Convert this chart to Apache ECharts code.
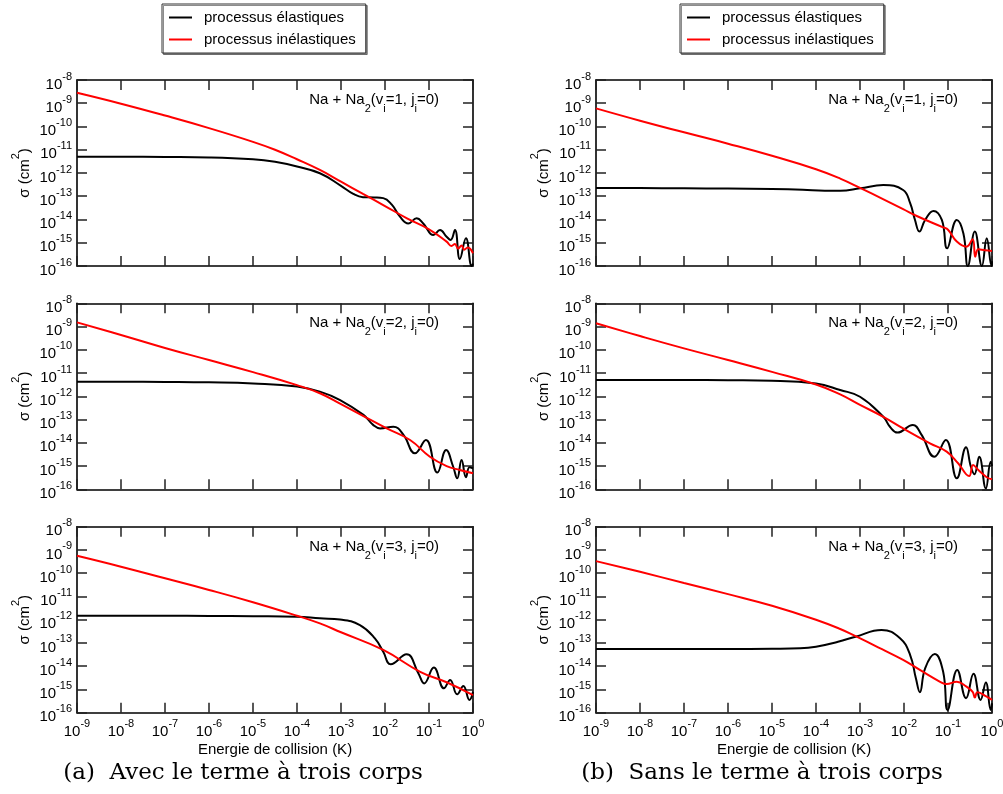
<!DOCTYPE html>
<html>
<head>
<meta charset="utf-8">
<script src="https://cdn.jsdelivr.net/npm/echarts@6/dist/echarts.min.js"></script>
<style>
html,body{margin:0;padding:0;background:#fff;}
#chart{width:1003px;height:794px;}
</style>
</head>
<body>
<div id="chart"></div>
<script>
// ---- Data: pairs of [log10(Energie / K), log10(sigma / cm^2)] ----
// (a) Avec le terme à trois corps
const avecV1Elastique = [[-9,-11.3],[-8,-11.3],[-7,-11.31],[-6,-11.33],[-5,-11.41],[-4.5,-11.52],[-4,-11.72],[-3.48,-12.01],[-3,-12.55],[-2.72,-12.9],[-2.5,-13.04],[-2.25,-13.05],[-2.04,-13.08],[-1.85,-13.35],[-1.66,-13.88],[-1.47,-14.17],[-1.28,-13.95],[-1.13,-14.17],[-0.9,-14.67],[-0.75,-14.45],[-0.6,-14.74],[-0.51,-14.88],[-0.41,-14.45],[-0.3,-15.7],[-0.16,-14.81],[-0.03,-16],[0,-15.9]];
const avecV1Inelastique = [[-9,-8.55],[-8,-9.02],[-7,-9.53],[-6,-10.07],[-5,-10.66],[-4.5,-11.0],[-4,-11.41],[-3.48,-11.87],[-3,-12.37],[-2.5,-12.9],[-2,-13.42],[-1.5,-13.95],[-1,-14.42],[-0.6,-14.95],[-0.49,-15.14],[-0.41,-15.05],[-0.34,-15.25],[-0.26,-15.12],[-0.2,-15.3],[-0.12,-15.2],[0,-15.45]];
const avecV2Elastique = [[-9,-11.37],[-8,-11.37],[-7,-11.38],[-6,-11.4],[-5,-11.45],[-4,-11.58],[-3.48,-11.8],[-3.02,-12.16],[-2.49,-12.8],[-2.27,-13.23],[-2.11,-13.38],[-1.81,-13.31],[-1.58,-13.66],[-1.32,-14.45],[-1.07,-13.88],[-0.81,-15.28],[-0.61,-14.31],[-0.45,-15.03],[-0.36,-15.53],[-0.26,-14.74],[-0.16,-15.48],[-0.08,-15.05],[0,-15.1]];
const avecV2Inelastique = [[-9,-8.82],[-8,-9.36],[-7,-9.92],[-6,-10.44],[-5,-10.96],[-4,-11.52],[-3.48,-11.87],[-3,-12.34],[-2.49,-12.85],[-1.96,-13.38],[-1.43,-13.88],[-0.98,-14.6],[-0.6,-15.0],[-0.3,-15.17],[0,-15.31]];
const avecV3Elastique = [[-9,-11.83],[-8,-11.83],[-7,-11.83],[-6,-11.84],[-5,-11.85],[-4,-11.87],[-3.48,-11.94],[-3.02,-11.99],[-2.57,-12.23],[-2.23,-12.8],[-2.04,-13.38],[-1.87,-13.92],[-1.51,-13.49],[-1.24,-14.31],[-1.11,-14.74],[-0.89,-14.06],[-0.66,-14.95],[-0.52,-14.59],[-0.36,-15.21],[-0.22,-14.85],[-0.08,-15.45],[0,-15.1]];
const avecV3Inelastique = [[-9,-9.25],[-8,-9.72],[-7,-10.22],[-6,-10.72],[-5,-11.25],[-4,-11.83],[-3.48,-12.16],[-3,-12.54],[-2.04,-13.3],[-1.2,-14.24],[-0.6,-14.69],[0,-15.24]];
// (b) Sans le terme à trois corps
const sansV1Elastique = [[-9,-12.65],[-8,-12.65],[-7,-12.66],[-6,-12.67],[-5,-12.69],[-4.3,-12.72],[-3.8,-12.76],[-3.45,-12.76],[-3,-12.66],[-2.47,-12.52],[-2.02,-12.73],[-1.86,-13.3],[-1.75,-14.02],[-1.65,-14.52],[-1.52,-14.02],[-1.33,-13.63],[-1.14,-14.02],[-1.02,-15.24],[-0.8,-14.02],[-0.65,-14.6],[-0.55,-16],[-0.39,-14.52],[-0.23,-16],[-0.12,-14.81],[-0.01,-16],[0,-15.8]];
const sansV1Inelastique = [[-9,-9.22],[-8,-9.75],[-7,-10.25],[-6,-10.74],[-5,-11.26],[-4,-11.84],[-3.45,-12.24],[-3,-12.64],[-2.5,-13.1],[-2.02,-13.55],[-1.71,-13.85],[-1.11,-14.34],[-1,-14.44],[-0.8,-14.95],[-0.58,-15.17],[-0.44,-14.85],[-0.38,-15.6],[-0.31,-15.28],[-0.16,-15.32],[0,-15.35]];
const sansV2Elastique = [[-9,-11.3],[-8,-11.3],[-7,-11.3],[-6,-11.31],[-5,-11.33],[-4,-11.45],[-3.45,-11.73],[-3,-12.02],[-2.47,-12.88],[-2.32,-13.31],[-2.15,-13.56],[-1.8,-13.23],[-1.6,-13.66],[-1.31,-14.6],[-1.05,-13.88],[-0.8,-15.53],[-0.59,-14.19],[-0.48,-15.03],[-0.4,-15.35],[-0.29,-14.6],[-0.14,-15.96],[-0.03,-14.81],[0,-15.0]];
const sansV2Inelastique = [[-9,-8.86],[-8,-9.41],[-7,-9.94],[-6,-10.44],[-5,-10.95],[-4,-11.49],[-3.45,-11.92],[-3,-12.37],[-2.47,-12.88],[-2.02,-13.38],[-1.41,-14.02],[-1.03,-14.38],[-0.77,-14.88],[-0.52,-15.43],[-0.43,-14.95],[-0.31,-15.17],[-0.12,-15.48],[0,-15.57]];
const sansV3Elastique = [[-9,-13.26],[-8,-13.26],[-7,-13.26],[-6,-13.26],[-5,-13.25],[-4.36,-13.23],[-4,-13.16],[-3.5,-12.95],[-3.1,-12.73],[-2.51,-12.44],[-2.09,-12.8],[-1.86,-13.52],[-1.73,-14.52],[-1.64,-15.12],[-1.52,-14.09],[-1.3,-13.48],[-1.11,-14.24],[-1.01,-15.88],[-0.79,-14.16],[-0.59,-15.38],[-0.42,-14.33],[-0.26,-15.45],[-0.14,-14.7],[-0.03,-15.88],[0,-15.6]];
const sansV3Inelastique = [[-9,-9.48],[-8,-9.94],[-7,-10.42],[-6,-10.9],[-5,-11.4],[-4,-12.0],[-3.45,-12.4],[-3.1,-12.71],[-2.5,-13.27],[-2.02,-13.73],[-1.64,-14.16],[-1.18,-14.67],[-1.03,-14.77],[-0.8,-14.67],[-0.58,-14.88],[-0.44,-15.1],[-0.39,-15.35],[-0.33,-15.12],[-0.12,-15.31],[0,-15.45]];

// tick label exponents
const xTickExponents = [-9,-8,-7,-6,-5,-4,-3,-2,-1,0];
const yTickExponents = [-16,-15,-14,-13,-12,-11,-10,-9,-8];
const seriesNames = ['processus élastiques', 'processus inélastiques'];
const panelLabels = ['v', 'j'];
const vibLevels = [1, 2, 3];
const captions = ['(a)  Avec le terme à trois corps', '(b)  Sans le terme à trois corps'];
const xAxisTitle = 'Energie de collision (K)';

// ---- layout ----
const SANS = '"Liberation Sans", Arial, sans-serif';
const colLeft = [77, 596];
const rowTop = [80, 303.3, 526.7];
const PW = 396, PH = 186;

const panels = [
  {col:0,row:0,el:avecV1Elastique,inel:avecV1Inelastique,v:vibLevels[0]},
  {col:1,row:0,el:sansV1Elastique,inel:sansV1Inelastique,v:vibLevels[0]},
  {col:0,row:1,el:avecV2Elastique,inel:avecV2Inelastique,v:vibLevels[1]},
  {col:1,row:1,el:sansV2Elastique,inel:sansV2Inelastique,v:vibLevels[1]},
  {col:0,row:2,el:avecV3Elastique,inel:avecV3Inelastique,v:vibLevels[2]},
  {col:1,row:2,el:sansV3Elastique,inel:sansV3Inelastique,v:vibLevels[2]}
];

const toPts = arr => arr.map(p => [Math.pow(10, p[0]), Math.pow(10, p[1])]);

const powRich = {
  b: {fontSize: 15, fontFamily: SANS, color: '#000', lineHeight: 24, verticalAlign: 'bottom'},
  s: {fontSize: 11, fontFamily: SANS, color: '#000', verticalAlign: 'top', padding: [3, 0, 0, 0]}
};
const powFmt = list => v => {
  const e = Math.round(Math.log10(v));
  return list.indexOf(e) >= 0 ? '{b|10}{s|' + e + '}' : '';
};

const lineAx = {show: true, onZero: false, lineStyle: {color: '#000', width: 1.6}};
const tickAx = {show: true, inside: true, length: 10, lineStyle: {color: '#222', width: 1.5}};

const grids = [], xAxes = [], yAxes = [], series = [], graphics = [];

panels.forEach((p, i) => {
  grids.push({left: colLeft[p.col], top: rowTop[p.row], width: PW, height: PH, containLabel: false, outerBoundsMode: 'none'});
  const bottomRow = p.row === 2;
  xAxes.push({
    type: 'log', logBase: 10, gridIndex: i, position: 'bottom', min: 1e-9, max: 1,
    axisLine: lineAx, axisTick: tickAx, minorTick: {show: false}, splitLine: {show: false},
    axisLabel: {show: bottomRow, margin: 3, formatter: powFmt(xTickExponents), rich: powRich},
    name: bottomRow ? xAxisTitle : '', nameLocation: 'middle', nameGap: 30, nameMoveOverlap: false,
    nameTextStyle: {fontFamily: SANS, fontSize: 15, color: '#000'}
  });
  xAxes.push({
    type: 'log', logBase: 10, gridIndex: i, position: 'top', min: 1e-9, max: 1,
    axisLine: lineAx, axisTick: tickAx, minorTick: {show: false}, splitLine: {show: false},
    axisLabel: {show: false}
  });
  yAxes.push({
    type: 'log', logBase: 10, gridIndex: i, position: 'left', min: 1e-16, max: 1e-8,
    axisLine: lineAx, axisTick: tickAx, minorTick: {show: false}, splitLine: {show: false},
    axisLabel: {show: true, margin: 5, formatter: powFmt(yTickExponents), rich: powRich},
    name: '{n|σ (cm}{s|2}{n|)}', nameLocation: 'middle', nameGap: 45, nameMoveOverlap: false,
    nameTextStyle: {rich: {
      n: {fontFamily: SANS, fontSize: 15, color: '#000', lineHeight: 22, verticalAlign: 'bottom'},
      s: {fontFamily: SANS, fontSize: 11, color: '#000', verticalAlign: 'top'}
    }}
  });
  yAxes.push({
    type: 'log', logBase: 10, gridIndex: i, position: 'right', min: 1e-16, max: 1e-8,
    axisLine: lineAx, axisTick: tickAx, minorTick: {show: false}, splitLine: {show: false},
    axisLabel: {show: false}
  });
  series.push({
    type: 'line', name: seriesNames[0], xAxisIndex: 2 * i, yAxisIndex: 2 * i,
    data: toPts(p.el), symbol: 'none', showSymbol: false, smooth: 0.45, clip: true,
    lineStyle: {color: '#000', width: 2}, itemStyle: {color: '#000'}, emphasis: {disabled: true}
  });
  series.push({
    type: 'line', name: seriesNames[1], xAxisIndex: 2 * i, yAxisIndex: 2 * i,
    data: toPts(p.inel), symbol: 'none', showSymbol: false, smooth: 0.45, clip: true,
    lineStyle: {color: '#ff0000', width: 2}, itemStyle: {color: '#ff0000'}, emphasis: {disabled: true}
  });
  graphics.push({
    type: 'text', x: colLeft[p.col] + PW - 34, y: rowTop[p.row] + 12.5, silent: true,
    style: {
      text: '{n|Na + Na}{s|2}{n|(' + panelLabels[0] + '}{s|i}{n|=' + p.v + ', ' + panelLabels[1] + '}{s|i}{n|=0)}',
      align: 'right', verticalAlign: 'top', textAlign: 'right', textVerticalAlign: 'top',
      rich: {
        n: {fontFamily: SANS, fontSize: 15, fill: '#000', color: '#000', lineHeight: 22, verticalAlign: 'top'},
        s: {fontFamily: SANS, fontSize: 11, fill: '#000', color: '#000', verticalAlign: 'bottom'}
      }
    }
  });
});

[243, 762].forEach((cx, k) => {
  graphics.push({
    type: 'text', x: cx, y: 773, silent: true,
    style: {text: captions[k], font: '23px "DejaVu Serif", "Liberation Serif", serif', fill: '#000',
      align: 'center', verticalAlign: 'middle', textAlign: 'center', textVerticalAlign: 'middle'}
  });
});

const legends = [162, 680].map(lx => ({
  left: lx, top: 4, orient: 'vertical', data: seriesNames,
  itemWidth: 23, itemHeight: 14, itemGap: 7, padding: [6, 10, 6, 6],
  itemStyle: {opacity: 0, borderWidth: 0},
  borderColor: '#333', borderWidth: 1, backgroundColor: '#fff',
  shadowColor: 'rgba(0,0,0,0.45)', shadowOffsetX: 1.5, shadowOffsetY: 1.5, shadowBlur: 0,
  textStyle: {fontFamily: SANS, fontSize: 15, color: '#000', padding: [0, 0, 0, 7]},
  selectedMode: false
}));

const chart = echarts.init(document.getElementById('chart'), null, {renderer: 'canvas'});
chart.setOption({
  animation: false,
  backgroundColor: '#fff',
  textStyle: {fontFamily: SANS},
  legend: legends,
  grid: grids,
  xAxis: xAxes,
  yAxis: yAxes,
  series: series,
  graphic: graphics
});
</script>
</body>
</html>
